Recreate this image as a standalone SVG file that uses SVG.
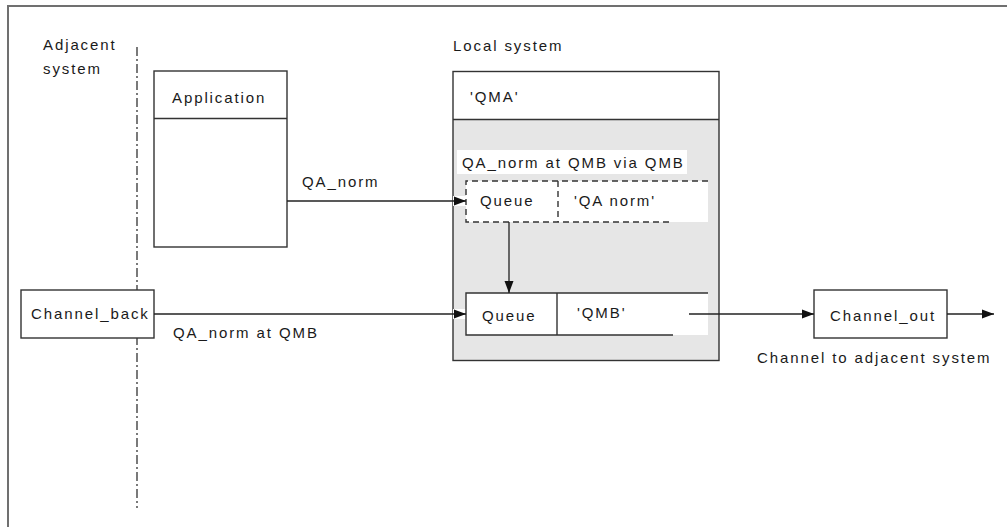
<svg xmlns="http://www.w3.org/2000/svg" width="1007" height="527" viewBox="0 0 1007 527">
<style>
text{font-family:"Liberation Sans",Arial,sans-serif;font-size:15px;letter-spacing:1.9px;fill:#1a1a1a}
.box{fill:#fff;stroke:#333;stroke-width:1.4}
.ln{stroke:#333;stroke-width:1.4;fill:none}
.dash{stroke:#333;stroke-width:1.4;fill:none;stroke-dasharray:6 4}
.conn{stroke:#222;stroke-width:1.3;fill:none;marker-end:url(#ah)}
</style>
<defs>
<marker id="ah" markerUnits="userSpaceOnUse" markerWidth="13" markerHeight="10" refX="12" refY="5" orient="auto">
<path d="M0,0.5 L12,5 L0,9.5 Z" fill="#111"/>
</marker>
</defs>
<rect width="1007" height="527" fill="#fff"/>
<path d="M8,527 V6 H1007" fill="none" stroke="#707070" stroke-width="2"/>
<g id="boundary">
<line x1="137" y1="47" x2="137" y2="508" stroke="#333" stroke-width="1.3" stroke-dasharray="9 3 2 3"/>
<text x="43" y="50">Adjacent</text>
<text x="43" y="74">system</text>
</g>
<g id="application">
<rect class="box" x="154" y="71" width="133" height="176"/>
<line class="ln" x1="154" y1="118.5" x2="287" y2="118.5"/>
<text x="172" y="103">Application</text>
</g>
<g id="local-system">
<text x="453" y="51">Local system</text>
<rect x="453" y="119.5" width="266" height="241" fill="#e6e6e6"/>
<rect x="453" y="71.5" width="266" height="289" fill="none" stroke="#333" stroke-width="1.4"/>
<line class="ln" x1="453" y1="119.5" x2="719" y2="119.5"/>
<text x="470" y="102">'QMA'</text>
<rect x="457" y="150" width="230" height="24" fill="#fff"/>
<text x="462" y="168">QA_norm at QMB via QMB</text>
</g>
<g id="queue-qa-norm">
<rect x="453" y="196" width="13" height="10" fill="#fff"/>
<rect x="466" y="181" width="242" height="41" fill="#fff"/>
<path class="dash" d="M708,181 H466 V222 H673 M558,181 V222"/>
<text x="480" y="206">Queue</text>
<text x="574" y="206">'QA norm'</text>
</g>
<g id="queue-qmb">
<rect x="453" y="309" width="13" height="10" fill="#fff"/>
<rect x="466" y="293" width="242" height="42" fill="#fff"/>
<path class="ln" d="M708,293 H466 V335 H673 M557,293 V335"/>
<text x="482" y="321">Queue</text>
<text x="577" y="318">'QMB'</text>
</g>
<g id="channel-back">
<rect class="box" x="21" y="290" width="133" height="48"/>
<text x="31" y="319">Channel_back</text>
</g>
<g id="channel-out">
<rect class="box" x="814" y="290" width="133" height="48"/>
<text x="830" y="321">Channel_out</text>
<text x="757" y="363">Channel to adjacent system</text>
</g>
<g id="connectors">
<line class="conn" x1="287" y1="201" x2="466" y2="201"/>
<text x="302" y="187">QA_norm</text>
<line class="conn" x1="509" y1="222" x2="509" y2="293"/>
<line class="conn" x1="154" y1="314" x2="466" y2="314"/>
<text x="173" y="338">QA_norm at QMB</text>
<line class="conn" x1="689" y1="314" x2="814" y2="314"/>
<line class="conn" x1="947" y1="314" x2="994" y2="314"/>
</g>
</svg>
